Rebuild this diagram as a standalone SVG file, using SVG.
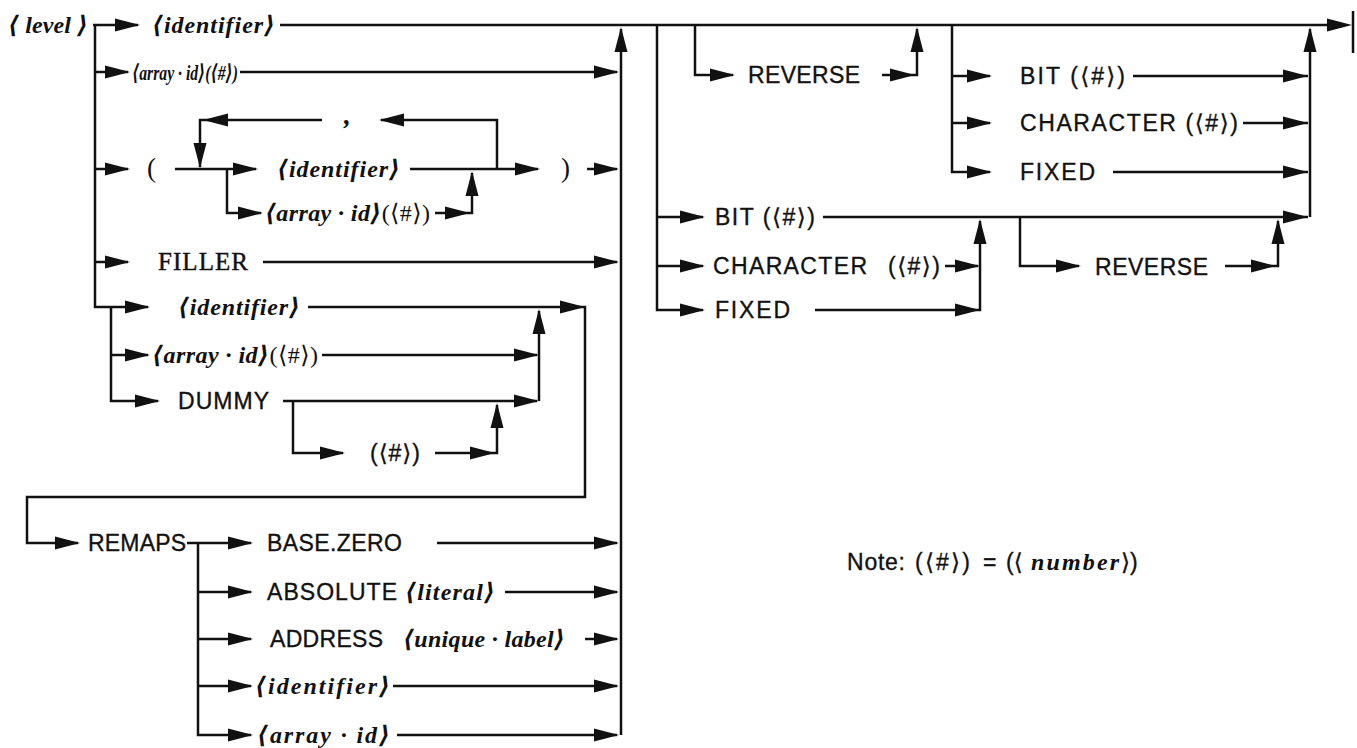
<svg xmlns="http://www.w3.org/2000/svg" xmlns:xlink="http://www.w3.org/1999/xlink" width="1357" height="748" viewBox="0 0 1357 748">
<defs>
<style>
.ln{stroke:#111;stroke-width:2.5;fill:none}
.it{font-family:"Liberation Serif","DejaVu Serif",serif;font-style:italic;font-weight:bold;font-size:24px;fill:#111}
.rm{font-family:"Liberation Serif","DejaVu Serif",serif;font-style:normal;font-weight:normal;font-size:24px;fill:#111}
.ss{font-family:"Liberation Sans","DejaVu Sans",sans-serif;font-size:23px;fill:#111;stroke:#111;stroke-width:0.35}
.ah{fill:#111}
</style>
<path id="a" class="ah" d="M0,0 L-25,-6.5 L-25,6.5 Z"/>
</defs>
<rect width="1357" height="748" fill="#fff"/>

<g id="connectors">
<path class="ln" d="M93,25 H138 M280,25 H1335 M1353,11 V53"/>
<path class="ln" d="M95,25 V307 H148"/>
<path class="ln" d="M95,72 H128 M240,72 H617"/>
<path class="ln" d="M95,169 H128 M175,169 H256 M410,169 H538 M587,169 H617"/>
<path class="ln" d="M200,167 V120 H322 M381,120 H497 V169"/>
<path class="ln" d="M227,169 V213 H261 M435,213 H472 V173"/>
<path class="ln" d="M95,262 H128 M263,262 H617"/>
<path class="ln" d="M111,307 V401 H158 M111,355 H148"/>
<path class="ln" d="M308,307 H585 V497 H27 V543 H78"/>
<path class="ln" d="M322,355 H537 M539,401 V311 M283,401 H537"/>
<path class="ln" d="M293,401 V453 H343 M435,453 H497 V405"/>
<path class="ln" d="M187,543 H251 M198,543 V735 H251 M198,592 H251 M198,639 H251 M198,686 H251"/>
<path class="ln" d="M437,543 H617 M505,592 H617 M585,639 H617 M393,686 H617 M397,735 H617"/>
<path class="ln" d="M621,735 V29"/>
<path class="ln" d="M657,25 V310 H703 M657,217 H703 M657,266 H703"/>
<path class="ln" d="M823,217 H1308 M1310,217 V29"/>
<path class="ln" d="M945,266 H978 M815,310 H980 V221"/>
<path class="ln" d="M1020,217 V266 H1079 M1225,266 H1278 V221"/>
<path class="ln" d="M695,25 V75 H733 M882,75 H917 V29"/>
<path class="ln" d="M952,25 V172 H990 M952,76 H990 M952,123 H990"/>
<path class="ln" d="M1133,76 H1308 M1243,123 H1308 M1113,172 H1308"/>
<!-- arrowheads -->
<use xlink:href="#a" x="140" y="25"/>
<use xlink:href="#a" x="1352" y="25"/>
<use xlink:href="#a" x="150" y="307"/>
<use xlink:href="#a" x="130" y="72"/>
<use xlink:href="#a" x="619" y="72"/>
<use xlink:href="#a" x="130" y="169"/>
<use xlink:href="#a" x="258" y="169"/>
<use xlink:href="#a" x="540" y="169"/>
<use xlink:href="#a" x="619" y="169"/>
<use xlink:href="#a" transform="translate(200,168) rotate(90)"/>
<use xlink:href="#a" transform="translate(203,120) rotate(180)"/>
<use xlink:href="#a" transform="translate(379,120) rotate(180)"/>
<use xlink:href="#a" x="263" y="213"/>
<use xlink:href="#a" x="470" y="213"/>
<use xlink:href="#a" transform="translate(472,171) rotate(-90)"/>
<use xlink:href="#a" x="130" y="262"/>
<use xlink:href="#a" x="619" y="262"/>
<use xlink:href="#a" x="160" y="401"/>
<use xlink:href="#a" x="150" y="355"/>
<use xlink:href="#a" x="585" y="307"/>
<use xlink:href="#a" x="80" y="543"/>
<use xlink:href="#a" x="539" y="355"/>
<use xlink:href="#a" x="539" y="401"/>
<use xlink:href="#a" transform="translate(539,309) rotate(-90)"/>
<use xlink:href="#a" x="345" y="453"/>
<use xlink:href="#a" x="495" y="453"/>
<use xlink:href="#a" transform="translate(497,403) rotate(-90)"/>
<use xlink:href="#a" x="253" y="543"/>
<use xlink:href="#a" x="253" y="592"/>
<use xlink:href="#a" x="253" y="639"/>
<use xlink:href="#a" x="253" y="686"/>
<use xlink:href="#a" x="253" y="735"/>
<use xlink:href="#a" x="619" y="543"/>
<use xlink:href="#a" x="619" y="592"/>
<use xlink:href="#a" x="619" y="639"/>
<use xlink:href="#a" x="619" y="686"/>
<use xlink:href="#a" x="619" y="735"/>
<use xlink:href="#a" transform="translate(621,27) rotate(-90)"/>
<use xlink:href="#a" x="705" y="217"/>
<use xlink:href="#a" x="705" y="266"/>
<use xlink:href="#a" x="705" y="310"/>
<use xlink:href="#a" x="1308" y="217"/>
<use xlink:href="#a" transform="translate(1310,27) rotate(-90)"/>
<use xlink:href="#a" x="980" y="266"/>
<use xlink:href="#a" x="980" y="310"/>
<use xlink:href="#a" transform="translate(980,219) rotate(-90)"/>
<use xlink:href="#a" x="1081" y="266"/>
<use xlink:href="#a" x="1276" y="266"/>
<use xlink:href="#a" transform="translate(1278,219) rotate(-90)"/>
<use xlink:href="#a" x="735" y="75"/>
<use xlink:href="#a" x="915" y="75"/>
<use xlink:href="#a" transform="translate(917,27) rotate(-90)"/>
<use xlink:href="#a" x="992" y="76"/>
<use xlink:href="#a" x="992" y="123"/>
<use xlink:href="#a" x="992" y="172"/>
<use xlink:href="#a" x="1308" y="76"/>
<use xlink:href="#a" x="1308" y="123"/>
<use xlink:href="#a" x="1308" y="172"/>
</g>

<g id="level"><text class="it" x="8" y="33" textLength="80" lengthAdjust="spacing">⟨ level ⟩</text></g>
<g id="identifier1"><text class="it" x="152" y="33" textLength="123" lengthAdjust="spacing">⟨identifier⟩</text></g>
<g id="arrayid1"><text class="it" x="132" y="80" style="font-size:22px" textLength="106" lengthAdjust="spacingAndGlyphs">⟨array · id⟩(⟨#⟩)</text></g>
<g id="lparen"><text class="rm" x="147" y="177" style="font-size:27px">(</text></g>
<g id="comma"><text class="it" x="344" y="124" style="font-size:27px">,</text></g>
<g id="identifier2"><text class="it" x="277" y="177" textLength="123" lengthAdjust="spacing">⟨identifier⟩</text></g>
<g id="rparen"><text class="rm" x="561" y="177" style="font-size:27px">)</text></g>
<g id="arrayid2"><text class="it" x="265" y="221" textLength="165" lengthAdjust="spacing">⟨array · id⟩<tspan class="rm">(⟨#⟩)</tspan></text></g>
<g id="filler"><text class="rm" x="158" y="270" style="font-size:25px;stroke:#111;stroke-width:0.4" textLength="90" lengthAdjust="spacing">FILLER</text></g>
<g id="identifier3"><text class="it" x="178" y="315" textLength="122" lengthAdjust="spacing">⟨identifier⟩</text></g>
<g id="arrayid3"><text class="it" x="152" y="363" textLength="166" lengthAdjust="spacing">⟨array · id⟩<tspan class="rm">(⟨#⟩)</tspan></text></g>
<g id="dummy"><text class="ss" x="178" y="409" textLength="91" lengthAdjust="spacing">DUMMY</text></g>
<g id="dummynum"><text class="ss" x="370" y="461" textLength="50" lengthAdjust="spacing">(⟨#⟩)</text></g>
<g id="remaps"><text class="ss" x="88" y="551" textLength="98" lengthAdjust="spacing">REMAPS</text></g>
<g id="basezero"><text class="ss" x="267" y="551" textLength="135" lengthAdjust="spacing">BASE.ZERO</text></g>
<g id="absolute"><text class="ss" x="267" y="600" textLength="130" lengthAdjust="spacing">ABSOLUTE</text><text class="it" x="405" y="600" textLength="90" lengthAdjust="spacing">⟨literal⟩</text></g>
<g id="address"><text class="ss" x="270" y="647" textLength="113" lengthAdjust="spacing">ADDRESS</text><text class="it" x="403" y="647" textLength="162" lengthAdjust="spacing">⟨unique · label⟩</text></g>
<g id="identifier4"><text class="it" x="255" y="694" textLength="135" lengthAdjust="spacing">⟨identifier⟩</text></g>
<g id="arrayid4"><text class="it" x="257" y="743" textLength="133" lengthAdjust="spacing">⟨array · id⟩</text></g>
<g id="reverse1"><text class="ss" x="748" y="83" textLength="112" lengthAdjust="spacing">REVERSE</text></g>
<g id="bit1"><text class="ss" x="1020" y="84" textLength="105" lengthAdjust="spacing">BIT  (⟨#⟩)</text></g>
<g id="char1"><text class="ss" x="1020" y="131" textLength="218" lengthAdjust="spacing">CHARACTER (⟨#⟩)</text></g>
<g id="fixed1"><text class="ss" x="1020" y="180" textLength="75" lengthAdjust="spacing">FIXED</text></g>
<g id="bit2"><text class="ss" x="715" y="225" textLength="100" lengthAdjust="spacing">BIT (⟨#⟩)</text></g>
<g id="char2"><text class="ss" x="713" y="274" textLength="154" lengthAdjust="spacing">CHARACTER</text><text class="ss" x="888" y="274" textLength="52" lengthAdjust="spacing">(⟨#⟩)</text></g>
<g id="fixed2"><text class="ss" x="715" y="318" textLength="75" lengthAdjust="spacing">FIXED</text></g>
<g id="reverse2"><text class="ss" x="1095" y="275" textLength="113" lengthAdjust="spacing">REVERSE</text></g>
<g id="note">
<text class="ss" x="847" y="570" textLength="58" lengthAdjust="spacing">Note:</text>
<text class="ss" x="915" y="570" textLength="55" lengthAdjust="spacing">(⟨#⟩)</text>
<text class="ss" x="983" y="570">=</text>
<text class="ss" x="1006" y="570">(⟨</text>
<text class="it" x="1031" y="570" textLength="88" lengthAdjust="spacing">number</text>
<text class="ss" x="1121" y="570">⟩)</text>
</g>
</svg>
